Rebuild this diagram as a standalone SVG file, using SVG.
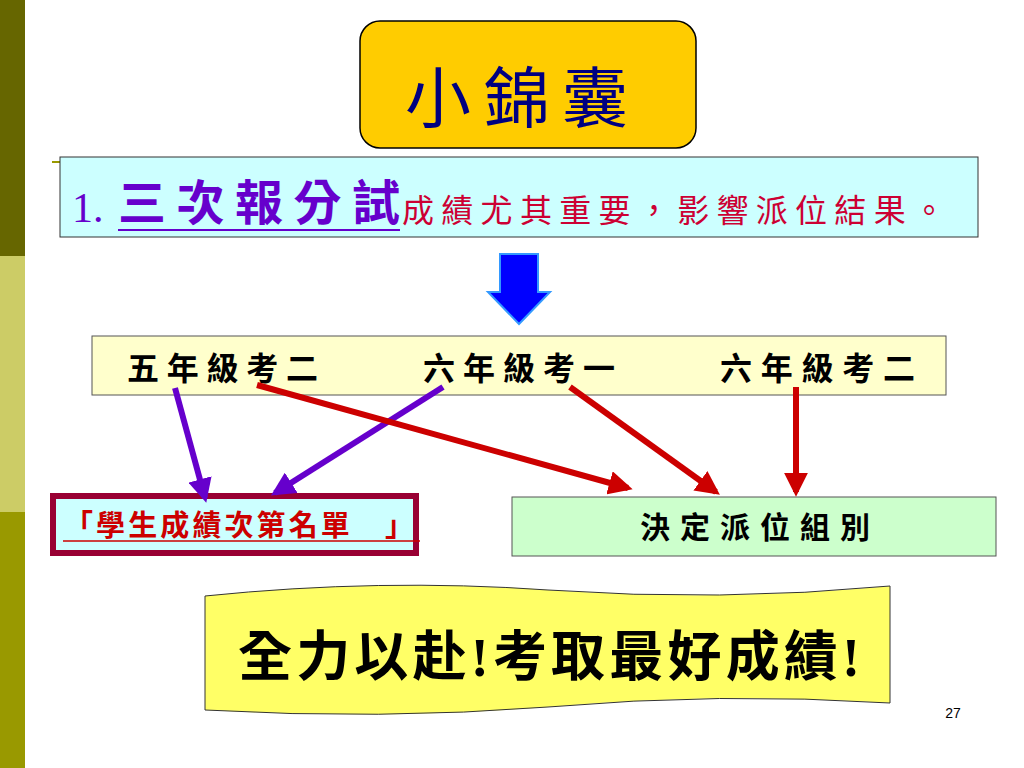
<svg xmlns="http://www.w3.org/2000/svg" width="1024" height="768" viewBox="0 0 1024 768">
<style>
.k{font-family:"Liberation Serif","Noto Sans CJK TC",serif;font-weight:bold}
.s{font-family:"Liberation Serif","Noto Sans CJK TC",serif}
</style>
<defs>
<marker id="ar" viewBox="0 0 10 10" refX="8" refY="5" markerWidth="4" markerHeight="4" orient="auto"><path d="M0,0L10,5L0,10z" fill="#cc0000"/></marker>
<marker id="ap" viewBox="0 0 10 10" refX="8" refY="5" markerWidth="4" markerHeight="4" orient="auto"><path d="M0,0L10,5L0,10z" fill="#6600cc"/></marker>
</defs>
<rect width="1024" height="768" fill="#fff"/>
<rect x="0" y="0" width="25" height="256" fill="#666600"/>
<rect x="0" y="256" width="25" height="256" fill="#cccc66"/>
<rect x="0" y="512" width="25" height="256" fill="#999900"/>
<line x1="52" y1="162" x2="62" y2="162" stroke="#999900" stroke-width="2"/>
<g id="title"><rect x="360" y="21" width="336" height="127" rx="20" fill="#ffcc00" stroke="#000" stroke-width="1.5"/>
<text x="405" y="122" class="s" font-size="66" fill="#000080" textLength="223" lengthAdjust="spacing">小錦囊</text></g>
<g id="header"><rect x="60" y="157" width="918" height="80" fill="#ccffff" stroke="#333" stroke-width="1"/>
<text x="72" y="222" class="s" font-size="42" fill="#6600cc">1.</text>
<text x="118" y="220" class="k" font-size="48" fill="#6600cc" textLength="282" lengthAdjust="spacing">三次報分試</text>
<line x1="118" y1="230" x2="400" y2="230" stroke="#6600cc" stroke-width="2"/>
<text x="402" y="222" class="s" font-size="32" fill="#cc0033" textLength="543" lengthAdjust="spacing">成績尤其重要，影響派位結果。</text></g>
<g id="bigarrow"><path d="M500,254H538V292H550L519,324L488,292H500Z" fill="#0000ff" stroke="#3399ff" stroke-width="2"/></g>
<g id="exams"><rect x="92" y="336" width="854" height="59" fill="#ffffcc" stroke="#555" stroke-width="1"/>
<text x="127" y="380" class="k" font-size="32" textLength="191" lengthAdjust="spacing">五年級考二</text>
<text x="423" y="380" class="k" font-size="32" textLength="192" lengthAdjust="spacing">六年級考一</text>
<text x="720" y="380" class="k" font-size="32" textLength="195" lengthAdjust="spacing">六年級考二</text></g>
<g id="list"><rect x="53" y="496" width="363" height="57" fill="#ccffff" stroke="#990033" stroke-width="6"/>
<text x="64" y="536" class="k" font-size="29" fill="#cc0000" textLength="350" lengthAdjust="spacing">「學生成績次第名單　」</text>
<line x1="63" y1="541" x2="420" y2="541" stroke="#cc0000" stroke-width="1.5"/></g>
<g id="decide"><rect x="512" y="497" width="484" height="59" fill="#ccffcc" stroke="#555" stroke-width="1"/>
<text x="640" y="538" class="k" font-size="30" textLength="230" lengthAdjust="spacing">決定派位組別</text></g>
<g id="connectors" stroke-width="6" fill="none">
<line x1="175" y1="388" x2="205" y2="498" stroke="#6600cc" marker-end="url(#ap)"/>
<line x1="443" y1="387" x2="275" y2="493" stroke="#6600cc" marker-end="url(#ap)"/>
<line x1="257" y1="385" x2="628" y2="488" stroke="#cc0000" marker-end="url(#ar)"/>
<line x1="570" y1="387" x2="716" y2="492" stroke="#cc0000" marker-end="url(#ar)"/>
<line x1="796" y1="387" x2="796" y2="492" stroke="#cc0000" marker-end="url(#ar)"/>
</g>
<g id="banner"><path d="M205,596 Q380,578 548,590 Q720,602 890,586 L890,703 Q720,692 548,707 Q380,720 205,710 Z" fill="#ffff66" stroke="#333" stroke-width="1"/>
<text x="238" y="676" class="k" font-size="54" textLength="622" lengthAdjust="spacing">全力以赴!考取最好成績!</text></g>
<text x="953" y="718" text-anchor="middle" font-family="Liberation Sans,sans-serif" font-size="14">27</text>
</svg>
